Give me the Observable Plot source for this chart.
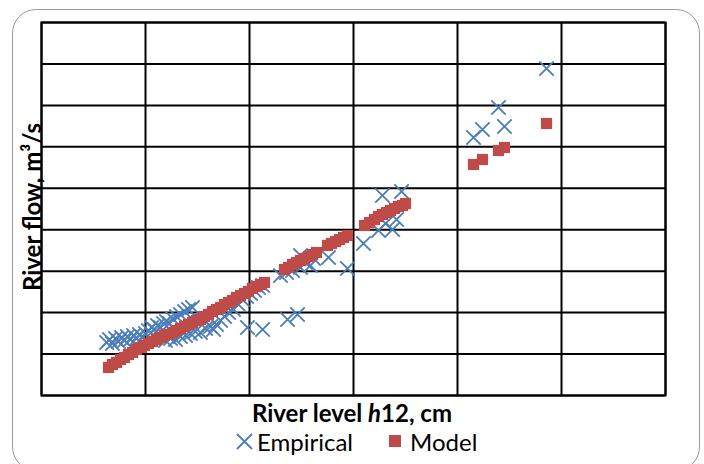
<!DOCTYPE html>
<html><head><meta charset="utf-8">
<script src="https://cdn.jsdelivr.net/npm/d3@7"></script>
<script src="https://cdn.jsdelivr.net/npm/@observablehq/plot@0.6"></script>
<style>
body{margin:0;background:#fff;}
#wrap{position:relative;width:704px;height:464px;overflow:hidden;font-family:Lato,"Open Sans",sans-serif;color:#000;}
#border{position:absolute;left:12px;top:9px;width:688px;height:462px;border:1.5px solid #999;border-radius:24px;box-sizing:border-box;}
#plot{position:absolute;left:0;top:0;}
#xtitle{position:absolute;left:0;width:704px;top:401px;text-align:center;font-weight:bold;font-size:24px;line-height:1;}
#ytitle{position:absolute;left:32px;top:207px;transform:translate(-50%,-50%) rotate(-90deg);font-weight:bold;font-size:24px;line-height:1;white-space:nowrap;}
.lg{position:absolute;font-size:24px;line-height:1;top:430px;white-space:nowrap;}
.ic{position:absolute;}
</style>
</head><body>
<div id="wrap">
  <div id="border"></div>
  <div id="plot"></div>
  <div id="xtitle">River level <i>h</i>12, cm</div>
  <div id="ytitle">River flow, m³/s</div>
  <svg class="ic" style="left:236px;top:433px" width="17" height="17"><path d="M1,1L16,16M16,1L1,16" stroke="#4a7ebb" stroke-width="1.8" fill="none"/></svg>
  <span class="lg" style="left:257px">Empirical</span>
  <svg class="ic" style="left:389px;top:435px" width="12" height="12"><rect x="0" y="0" width="12" height="12" fill="#be4b48"/></svg>
  <span class="lg" style="left:410px">Model</span>
</div>
<script>
const xTicks = [0, 50, 100, 150, 200, 250, 300];
const yTicks = [0, 100, 200, 300, 400, 500, 600, 700, 800, 900];

// Empirical observations: river level h12 (cm) and flow (m3/s)
const empiricalLevel = [
  31.3, 32.7, 34.1, 35.6, 37.0, 38.5, 39.9, 41.3, 42.8, 44.2, 45.7, 47.1, 48.6, 50.0,
  51.4, 52.9, 54.3, 55.8, 57.2, 58.7, 60.1, 61.5, 63.0, 64.9, 66.8, 68.8, 70.7, 72.6,
  59.6, 62.0, 64.4, 66.8, 69.2, 71.6, 74.0, 76.4, 78.9, 81.3, 82.7, 84.1, 86.1, 88.0,
  89.9, 92.3, 94.7, 96.6, 98.6, 100.5, 102.4, 104.3, 106.3,
  99.0, 106.3, 118.3, 123.1,
  114.9, 117.8, 120.7, 124.5, 126.9, 129.3, 130.8, 124.5, 138.0, 147.1,
  154.8, 162.0, 165.4, 168.8, 170.7, 163.9, 173.1,
  207.7, 212.0, 219.7, 222.6, 242.8
];
const empiricalFlow = [
  127.9, 135.1, 125.5, 137.5, 130.3, 140.0, 132.7, 142.4, 135.1, 144.8, 137.5, 147.2, 140.0, 149.6,
  156.8, 164.1, 159.3, 168.9, 164.1, 173.7, 178.6, 173.7, 185.8, 190.6, 195.5, 202.7, 207.5, 212.3,
  132.7, 137.5, 135.1, 142.4, 144.8, 149.6, 154.4, 152.0, 161.7, 166.5, 159.3, 171.3, 181.0, 190.6,
  200.3, 207.5, 219.6, 231.6, 238.9, 246.1, 253.4, 260.6, 265.4,
  164.1, 159.3, 183.4, 195.5,
  289.6, 296.8, 301.6, 308.9, 320.9, 313.7, 330.6, 337.8, 333.0, 306.5,
  366.8, 398.1, 415.0, 400.6, 424.7, 482.6, 492.3,
  622.6, 641.9, 694.9, 649.1, 789.1
];

// Model values
const modelLevel = [
  32.2, 34.1, 36.1, 38.0, 39.9, 41.8, 43.8, 45.7, 47.6, 49.5, 51.4, 53.4, 55.3, 57.2,
  59.1, 61.1, 63.0, 64.9, 66.8, 68.8, 70.7, 72.6, 74.5, 76.4, 78.4, 80.3, 82.2, 84.1,
  86.1, 88.0, 89.9, 91.8, 93.8, 95.7, 97.6, 99.5, 101.4, 103.4, 105.3, 107.2,
  116.8, 118.8, 120.7, 122.6, 124.5, 126.5, 128.4, 130.3, 132.2,
  137.5, 139.4, 141.4, 143.3, 145.2, 147.1,
  155.3, 157.7, 160.1, 162.0, 163.9, 165.9, 167.8, 169.7, 171.6, 173.6, 175.0,
  207.7, 212.0, 219.7, 222.6, 242.8
];
const modelFlow = [
  67.6, 74.8, 79.6, 86.9, 91.7, 98.9, 103.8, 111.0, 115.8, 120.7, 125.5, 130.3, 135.1, 140.0,
  144.8, 147.2, 152.0, 156.8, 161.7, 166.5, 171.3, 176.1, 181.0, 183.4, 190.6, 195.5, 202.7, 207.5,
  212.3, 219.6, 224.4, 229.2, 236.5, 241.3, 246.1, 251.0, 258.2, 263.0, 267.8, 272.7,
  304.0, 308.9, 316.1, 320.9, 325.8, 330.6, 335.4, 340.2, 345.1,
  362.0, 366.8, 371.6, 376.4, 381.3, 386.1,
  410.2, 417.4, 424.7, 431.9, 436.8, 441.6, 446.4, 451.2, 456.1, 458.5, 463.3,
  557.4, 569.5, 591.2, 598.4, 656.3
];

const empirical = empiricalLevel.map((h, i) => ({h, q: empiricalFlow[i]}));
const model = modelLevel.map((h, i) => ({h, q: modelFlow[i]}));

const chart = Plot.plot({
  width: 704,
  height: 400,
  marginLeft: 41,
  marginRight: 39,
  marginTop: 22,
  marginBottom: 5,
  x: {domain: [0, 300], axis: null},
  y: {domain: [0, 900], axis: null},
  marks: [
    Plot.gridX(xTicks, {stroke: "#000", strokeOpacity: 1, strokeWidth: 2}),
    Plot.gridY(yTicks, {stroke: "#000", strokeOpacity: 1, strokeWidth: 2}),
    Plot.frame({stroke: "#000", strokeWidth: 2}),
    Plot.dot(empirical, {x: "h", y: "q", symbol: "times", r: 6.6, stroke: "#4a7ebb", strokeWidth: 1.8}),
    Plot.dot(model, {x: "h", y: "q", symbol: "square", r: 6.3, fill: "#be4b48", stroke: "none"})
  ]
});
document.getElementById("plot").appendChild(chart);
</script>
</body></html>
